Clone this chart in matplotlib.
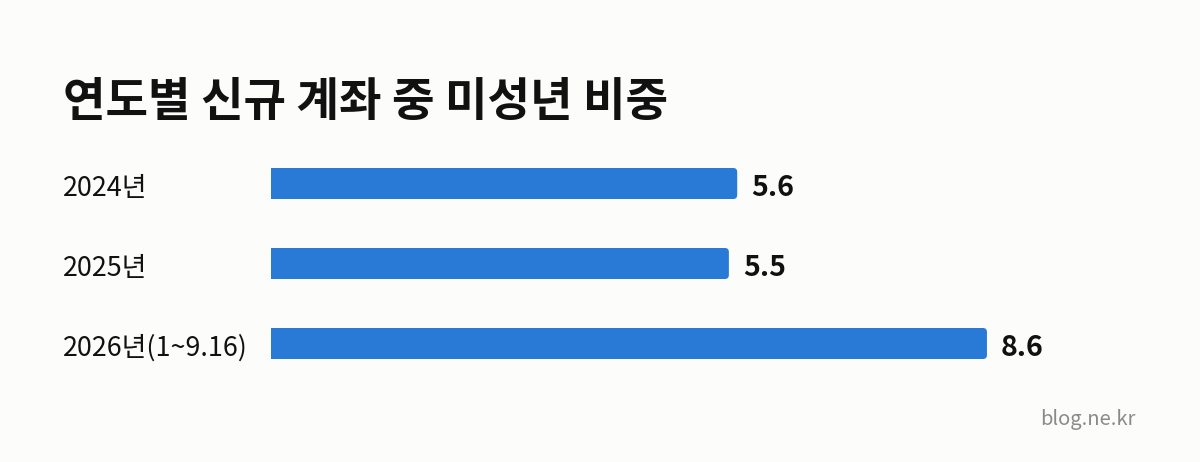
import matplotlib
matplotlib.use("Agg")
import matplotlib.pyplot as plt
from matplotlib.patches import FancyBboxPatch
import numpy as np

plt.rcParams['font.family'] = ['Noto Sans CJK KR', 'DejaVu Sans']

title = "연도별 신규 계좌 중 미성년 비중"
categories = ["2024년", "2025년", "2026년(1~9.16)"]
values = [5.6, 5.5, 8.6]
value_labels = ["5.6", "5.5", "8.6"]
watermark = "blog.ne.kr"

BG = "#fcfcfa"
BAR = "#2979d6"

W, H = 1200, 462
fig = plt.figure(figsize=(W / 100, H / 100), dpi=100, facecolor=BG)

px_per_unit = 83.25
x0_px = 271
ax_left = x0_px / W
ax_width = (W - x0_px) / W
top_px, bot_px = 143.5, 383.5
ax = fig.add_axes([ax_left, 1 - bot_px / H, ax_width, (bot_px - top_px) / H])
ax.set_facecolor(BG)
ax.set_xlim(0, (W - x0_px) / px_per_unit)
ax.set_ylim(2.5, -0.5)
ax.axis('off')

bar_h = 31 / 80
r = 4 / px_per_unit
ypos = np.arange(len(values))
for y, v in zip(ypos, values):
    # square left part
    ax.barh(y, v - 2 * r, height=bar_h, left=0, color=BAR, linewidth=0)
    # rounded right end
    p = FancyBboxPatch((0, y - bar_h / 2), v, bar_h,
                       boxstyle=f"round,pad=0,rounding_size={r}",
                       mutation_aspect=px_per_unit / 80,
                       facecolor=BAR, edgecolor='none')
    ax.add_patch(p)

for y, v, lab in zip(ypos, values, value_labels):
    ax.annotate(lab, (v, y), xytext=(14, -4.5), textcoords='offset pixels',
                ha='left', va='center', fontsize=20.5, fontweight='bold',
                color='#111111')

for y, cat in zip(ypos, categories):
    fy = 1 - (top_px + (y + 0.5) * 80 + 4.5) / H
    fig.text(63 / W, fy, cat, ha='left', va='center', fontsize=19.4,
             color='#111111')

fig.text(63 / W, 1 - 102 / H, title, ha='left', va='center', fontsize=33.3,
         fontweight='bold', color='#111111')

fig.text(1136 / W, 1 - 420 / H, watermark, ha='right', va='center',
         fontsize=14.5, color='#8a8a8a')

fig.savefig("out.png", dpi=100, facecolor=BG)
